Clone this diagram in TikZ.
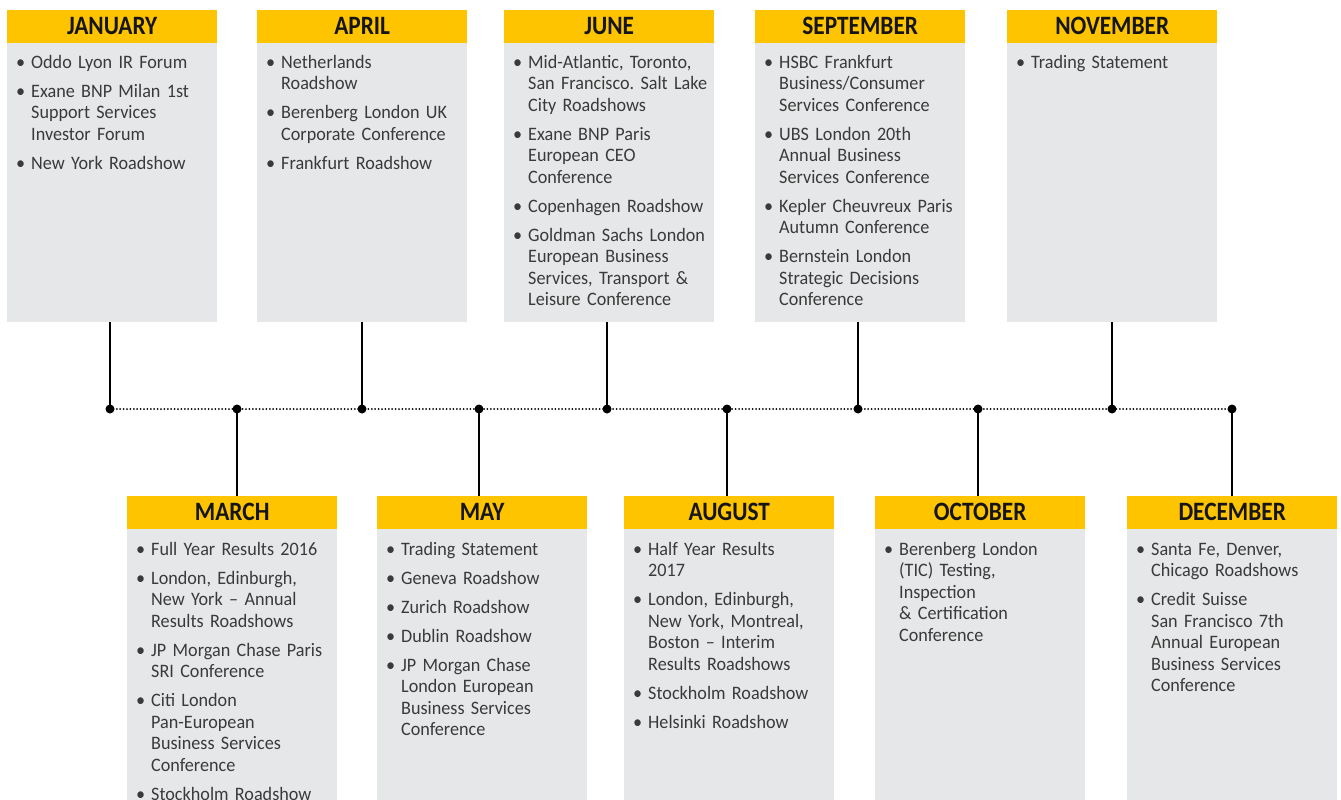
\documentclass[tikz,border=0pt]{standalone}
\usepackage{fontspec}
\setmainfont{Carlito}[FakeStretch=0.955]
\newfontfamily\hdrfont{Carlito}[FakeStretch=0.88]
\frenchspacing
\definecolor{eyyellow}{HTML}{FFC400}
\definecolor{boxgrey}{HTML}{E6E7E8}
\definecolor{bodytext}{HTML}{3A3A3A}
\definecolor{hdrtext}{HTML}{151515}
\newcommand\evitem[1]{\noindent\hangindent=15pt\hangafter=1\makebox[15pt][l]{\textbullet}\rule{0pt}{15pt}#1\par}
\tikzset{
 hdr/.style={fill=eyyellow, minimum width=210pt, minimum height=33pt, inner sep=0pt, text height=16.5pt, text depth=0.5pt, font=\hdrfont\fontsize{26.5}{26.5}\selectfont\bfseries, text=hdrtext, anchor=north west},
 bodybox/.style={fill=boxgrey, minimum width=210pt, inner sep=0pt, anchor=north west},
 evtext/.style={anchor=north west, inner sep=0pt, text width=200pt, font=\frenchspacing\fontsize{19}{21.5}\selectfont, text=bodytext, execute at begin node={\raggedright\frenchspacing\setlength\parskip{7.5pt}}},
 dot/.style={circle, fill=black, inner sep=0pt, minimum size=9pt},
 stem/.style={line width=2.5pt, black},
 axis/.style={line width=2pt, dash pattern=on 0pt off 3.4pt, line cap=round, black}
}
\begin{document}
\begin{tikzpicture}[x=1pt,y=-1pt]
\useasboundingbox (0,0) rectangle (1341,800);
\clip (0,0) rectangle (1341,800);
% top row
\node[bodybox, minimum height=279pt] (bJan) at (7,43) {};
\node[hdr] (hJan) at (7,10) {JANUARY};
\node[evtext] (tJan) at (16,53) {%
\evitem{Oddo Lyon IR Forum}
\evitem{Exane BNP Milan 1st\newline Support Services\newline Investor Forum}
\evitem{New York Roadshow}};

\node[bodybox, minimum height=279pt] (bApr) at (257,43) {};
\node[hdr] (hApr) at (257,10) {APRIL};
\node[evtext] (tApr) at (266,53) {%
\evitem{Netherlands\newline Roadshow}
\evitem{Berenberg London UK\newline Corporate Conference}
\evitem{Frankfurt Roadshow}};

\node[bodybox, minimum height=279pt] (bJun) at (504,43) {};
\node[hdr] (hJun) at (504,10) {JUNE};
\node[evtext] (tJun) at (513,53) {%
\evitem{Mid-Atlantic, Toronto,\newline San Francisco. Salt Lake\newline City Roadshows}
\evitem{Exane BNP Paris\newline European CEO\newline Conference}
\evitem{Copenhagen Roadshow}
\evitem{Goldman Sachs London\newline European Business\newline Services, Transport \&\newline Leisure Conference}};

\node[bodybox, minimum height=279pt] (bSep) at (755,43) {};
\node[hdr] (hSep) at (755,10) {SEPTEMBER};
\node[evtext] (tSep) at (764,53) {%
\evitem{HSBC Frankfurt\newline Business/Consumer\newline Services Conference}
\evitem{UBS London 20th\newline Annual Business\newline Services Conference}
\evitem{Kepler Cheuvreux Paris\newline Autumn Conference}
\evitem{Bernstein London\newline Strategic Decisions\newline Conference}};

\node[bodybox, minimum height=279pt] (bNov) at (1007,43) {};
\node[hdr] (hNov) at (1007,10) {NOVEMBER};
\node[evtext] (tNov) at (1016,53) {%
\evitem{Trading Statement}};

% bottom row
\node[bodybox, minimum height=290pt] (bMar) at (127,529) {};
\node[hdr] (hMar) at (127,496) {MARCH};
\node[evtext] (tMar) at (136,540) {%
\evitem{Full Year Results 2016}
\evitem{London, Edinburgh,\newline New York – Annual\newline Results Roadshows}
\evitem{JP Morgan Chase Paris\newline SRI Conference}
\evitem{Citi London\newline Pan-European\newline Business Services\newline Conference}
\evitem{Stockholm Roadshow}};

\node[bodybox, minimum height=290pt] (bMay) at (377,529) {};
\node[hdr] (hMay) at (377,496) {MAY};
\node[evtext] (tMay) at (386,540) {%
\evitem{Trading Statement}
\evitem{Geneva Roadshow}
\evitem{Zurich Roadshow}
\evitem{Dublin Roadshow}
\evitem{JP Morgan Chase\newline London European\newline Business Services\newline Conference}};

\node[bodybox, minimum height=290pt] (bAug) at (624,529) {};
\node[hdr] (hAug) at (624,496) {AUGUST};
\node[evtext] (tAug) at (633,540) {%
\evitem{Half Year Results\newline 2017}
\evitem{London, Edinburgh,\newline New York, Montreal,\newline Boston – Interim\newline Results Roadshows}
\evitem{Stockholm Roadshow}
\evitem{Helsinki Roadshow}};

\node[bodybox, minimum height=290pt] (bOct) at (875,529) {};
\node[hdr] (hOct) at (875,496) {OCTOBER};
\node[evtext] (tOct) at (884,540) {%
\evitem{Berenberg London\newline (TIC) Testing,\newline Inspection\newline \& Certification\newline Conference}};

\node[bodybox, minimum height=290pt] (bDec) at (1127,529) {};
\node[hdr] (hDec) at (1127,496) {DECEMBER};
\node[evtext] (tDec) at (1136,540) {%
\evitem{Santa Fe, Denver,\newline Chicago Roadshows}
\evitem{Credit Suisse\newline San Francisco 7th\newline Annual European\newline Business Services\newline Conference}};

% timeline
\node[dot] (d1) at (110,409) {};
\node[dot] (d2) at (237,409) {};
\node[dot] (d3) at (362,409) {};
\node[dot] (d4) at (479,409) {};
\node[dot] (d5) at (607,409) {};
\node[dot] (d6) at (727,409) {};
\node[dot] (d7) at (858,409) {};
\node[dot] (d8) at (978,409) {};
\node[dot] (d9) at (1112,409) {};
\node[dot] (d10) at (1232,409) {};
\draw[axis] (d1.center) -- (d10.center);

\draw[stem] (bJan.south -| d1) -- (d1.center);
\draw[stem] (bApr.south -| d3) -- (d3.center);
\draw[stem] (bJun.south -| d5) -- (d5.center);
\draw[stem] (bSep.south -| d7) -- (d7.center);
\draw[stem] (bNov.south -| d9) -- (d9.center);
\draw[stem] (d2.center) -- (hMar.north -| d2);
\draw[stem] (d4.center) -- (hMay.north -| d4);
\draw[stem] (d6.center) -- (hAug.north -| d6);
\draw[stem] (d8.center) -- (hOct.north -| d8);
\draw[stem] (d10.center) -- (hDec.north -| d10);
\end{tikzpicture}
\end{document}
